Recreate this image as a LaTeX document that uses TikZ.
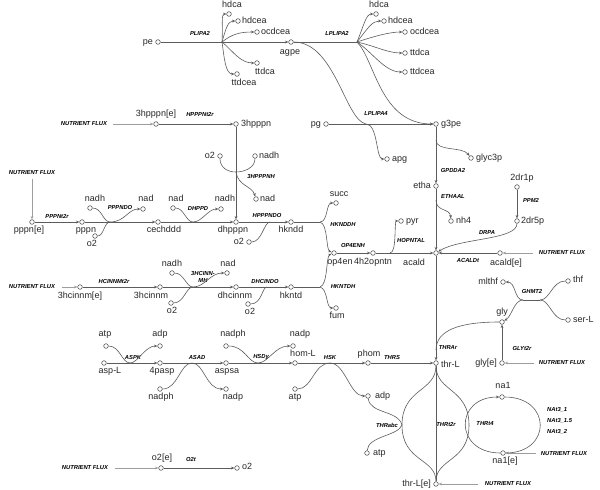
\documentclass[tikz,border=0pt]{standalone}
\usepackage{fontspec}
\setmainfont{Liberation Sans}
\usetikzlibrary{arrows.meta}
\definecolor{ln}{HTML}{5C5C5C}
\definecolor{tx}{HTML}{262626}
\tikzset{
 met/.style={circle,draw=ln,fill=white,line width=0.6pt,inner sep=0pt,minimum size=4.6pt},
 lab/.style={font=\fontsize{9}{9}\selectfont,text=tx,inner sep=0pt,text height=6.5pt,text depth=2pt},
 rxn/.style={font=\fontsize{5.8}{6.6}\selectfont\bfseries\itshape,inner sep=0pt,align=center},
 nf/.style={font=\fontsize{5.8}{6}\selectfont\bfseries\itshape,inner sep=0pt},
 edge/.style={draw=ln,line width=0.6pt},
 pr/.style={edge,-{Stealth[length=3.4pt,width=2.8pt]}},
 fl/.style={draw=ln!60,line width=0.6pt,-{Stealth[length=3.4pt,width=2.8pt]}},
}
\newcommand\mt[5]{\node[met] (#1) at (#2) {}; \node[lab,anchor=#3] (#1-l) at (#4) {#5};}
\newcommand\rx[3]{\node[rxn] (#1) at (#2) {#3};}
\begin{document}
\begin{tikzpicture}[x=1pt,y=-1pt]
\useasboundingbox (0,0) rectangle (600,490);
% ---------------- metabolites ----------------
\mt{pe}{158,42}{east}{153,42}{pe}
\mt{hdcaA}{229,14}{south}{232,10}{hdca}
\mt{hdceaA}{238,21}{west}{242,21}{hdcea}
\mt{ocdceaA}{257,32}{west}{261,32}{ocdcea}
\mt{ttdcaA}{257,63}{north}{265,68}{ttdca}
\mt{ttdceaA}{237,74}{north}{244,79}{ttdcea}
\mt{agpe}{291,42}{north}{290,48}{agpe}
\mt{hdcaB}{376,14}{south}{379,10}{hdca}
\mt{hdceaB}{384,21}{west}{388,21}{hdcea}
\mt{ocdceaB}{405,32}{west}{410,32}{ocdcea}
\mt{ttdcaB}{405,53}{west}{410,53}{ttdca}
\mt{ttdceaB}{405,72}{west}{410,72}{ttdcea}
\mt{hpppne}{156,124}{south}{156,119}{3hpppn[e]}
\mt{hpppn}{236,124}{west}{241,124}{3hpppn}
\mt{o2a}{220,156}{east}{215,156}{o2}
\mt{nadha}{255,156}{west}{259,156}{nadh}
\mt{nada}{256,199}{west}{260,199}{nad}
\mt{pg}{326,124}{east}{321,124}{pg}
\mt{g3pe}{436,124}{west}{441,124}{g3pe}
\mt{apg}{387,159}{west}{392,159}{apg}
\mt{glyc3p}{471,158}{west}{476,158}{glyc3p}
\mt{etha}{436,186}{east}{431,186}{etha}
\mt{nh4}{451,221}{west}{456,221}{nh4}
\mt{pyr}{401,221}{west}{406,221}{pyr}
\mt{drip}{517,187}{south}{522,183}{2dr1p}
\mt{drvp}{517,221}{west}{521,221}{2dr5p}
\mt{pppne}{32,222}{north}{29,226}{pppn[e]}
\mt{pppn}{82,222}{north}{86,226}{pppn}
\mt{nadhb}{90,208}{south}{95,204}{nadh}
\mt{o2b}{95,236}{north}{92,240}{o2}
\mt{nadb}{143,209}{south}{146,204}{nad}
\mt{cechddd}{158,222}{north}{164,226}{cechddd}
\mt{nadc}{173,208}{south}{176,204}{nad}
\mt{nadhc}{221,209}{south}{225,204}{nadh}
\mt{dhpppn}{236,222}{north}{233,226}{dhpppn}
\mt{o2c}{249,242}{east}{244,242}{o2}
\mt{hkndd}{291,222}{north}{291,226}{hkndd}
\mt{succ}{336,203}{south}{339,199}{succ}
\mt{opfen}{334,253}{north}{340,258}{op4en}
\mt{hopntn}{373,253}{north}{373,258}{4h2opntn}
\mt{acald}{436,253}{north}{414,259}{acald}
\mt{acalde}{500,253}{north}{506,259}{acald[e]}
\mt{mlthf}{503,282}{east}{498,282}{mlthf}
\mt{thf}{568,281}{west}{573,280}{thf}
\mt{serL}{568,320}{west}{573,320}{ser-L}
\mt{gly}{502,322}{south}{502,317}{gly}
\mt{glye}{502,363}{east}{497,363}{gly[e]}
\mt{hcinnme}{80,287}{north}{80,292}{3hcinnm[e]}
\mt{hcinnm}{160,287}{north}{151,292}{3hcinnm}
\mt{nadhd}{172,273}{south}{172,269}{nadh}
\mt{o2d}{171,303}{north}{172,307}{o2}
\mt{nadd}{227,273}{south}{228,269}{nad}
\mt{dhcinnm}{236,287}{north}{235,292}{dhcinnm}
\mt{o2e}{248,304}{north}{250,308}{o2}
\mt{hkntd}{291,287}{north}{291,292}{hkntd}
\mt{fum}{336,308}{north}{337,312}{fum}
\mt{atpa}{106,346}{south}{105,339}{atp}
\mt{adpa}{160,346}{south}{160,339}{adp}
\mt{aspL}{104,363}{north}{110,367}{asp-L}
\mt{fpasp}{160,363}{north}{162,367}{4pasp}
\mt{nadpha}{160,389}{north}{161,393}{nadph}
\mt{aspsa}{226,363}{north}{227,367}{aspsa}
\mt{nadpa}{226,389}{north}{233,393}{nadp}
\mt{nadphb}{226,346}{south}{233,339}{nadph}
\mt{nadpb}{293,346}{south}{300,339}{nadp}
\mt{homL}{295,363}{south}{303,359}{hom-L}
\mt{atpb}{295,389}{north}{295,393}{atp}
\mt{phom}{368,363}{south}{369,359}{phom}
\mt{adpb}{368,396}{west}{375,396}{adp}
\mt{thrL}{436,363}{west}{441,365}{thr-L}
\mt{atpc}{367,453}{west}{373,453}{atp}
\mt{naa}{502,397}{south}{503,391}{na1}
\mt{naae}{503,453}{north}{505,457}{na1[e]}
\mt{thrLe}{436,484}{east}{431,484}{thr-L[e]}
\mt{otwoe}{161,468}{south}{162,463}{o2[e]}
\mt{otwo}{237,468}{west}{242,467}{o2}
% ---------------- nutrient flux ----------------
\node[nf] (nf1) at (84,124) {NUTRIENT FLUX};
\node[nf] (nf2) at (32,173) {NUTRIENT FLUX};
\node[nf] (nf3) at (32,287) {NUTRIENT FLUX};
\node[nf] (nf4) at (562,253) {NUTRIENT FLUX};
\node[nf] (nf5) at (562,363) {NUTRIENT FLUX};
\node[nf] (nf6) at (564,454) {NUTRIENT FLUX};
\node[nf] (nf7) at (508,484) {NUTRIENT FLUX};
\node[nf] (nf8) at (85,468) {NUTRIENT FLUX};
\coordinate (f1) at (113,124);
\coordinate (f2) at (32,179);
\coordinate (f3) at (62,287);
\coordinate (f4) at (533,253);
\coordinate (f5) at (534,363);
\coordinate (f6) at (536,453);
\coordinate (f7) at (478,484);
\coordinate (f8) at (115,468);
\draw[fl] (f1) -- (hpppne);
\draw[fl] (f2) -- (pppne);
\draw[fl] (f3) -- (hcinnme);
\draw[fl] (f4) -- (acalde);
\draw[fl] (f5) -- (glye);
\draw[fl] (f6) -- (naae);
\draw[fl] (f7) -- (thrLe);
\draw[fl] (f8) -- (otwoe);
% ---------------- reaction labels ----------------
\rx{rPLIPA2}{200,33}{PLIPA2}
\rx{rLPLIPA2}{337,33}{LPLIPA2}
\rx{rHPPPNt2r}{200,114}{HPPPNt2r}
\rx{rLPLIPA4}{376,114}{LPLIPA4}
\rx{r3HPPPNH}{261,177}{3HPPPNH}
\rx{rGPDDA2}{453,170}{GPDDA2}
\rx{rETHAAL}{453,197}{ETHAAL}
\rx{rPPM2}{531,200}{PPM2}
\rx{rPPPNt2r}{57,216}{PPPNt2r}
\rx{rPPPNDO}{120,208}{PPPNDO}
\rx{rDHPPD}{198,209}{DHPPD}
\rx{rHPPPNDO}{267,215}{HPPPNDO}
\rx{rHKNDDH}{343,225}{HKNDDH}
\rx{rOP4ENH}{353,245}{OP4ENH}
\rx{rHOPNTAL}{411,240}{HOPNTAL}
\rx{rDRPA}{487,233}{DRPA}
\rx{rACALDt}{468,261}{ACALDt}
\rx{rGHMT2}{532,291}{GHMT2}
\rx{rHCINNMt2r}{114,281}{HCINNMt2r}
\rx{r3HCINNMH}{203,277}{3HCINN-\\MH}
\rx{rDHCINDO}{265,281}{DHCINDO}
\rx{rHKNTDH}{343,287}{HKNTDH}
\rx{rTHRAr}{448,348}{THRAr}
\rx{rGLYt2r}{522,348}{GLYt2r}
\rx{rASPK}{133,357}{ASPK}
\rx{rASAD}{197,357}{ASAD}
\rx{rHSDy}{261,357}{HSDy}
\rx{rHSK}{330,357}{HSK}
\rx{rTHRS}{392,357}{THRS}
\rx{rTHRabc}{387,425}{THRabc}
\rx{rTHRt2r}{446,424}{THRt2r}
\rx{rTHRt4}{485,424}{THRt4}
\node[rxn,anchor=west] (rNA1) at (547,410) {NAt3\_1};
\node[rxn,anchor=west] (rNA2) at (547,421) {NAt3\_1.5};
\node[rxn,anchor=west] (rNA3) at (547,432) {NAt3\_2};
\rx{rO2t}{191,459}{O2t}
% ---------------- junctions ----------------
\coordinate (jP) at (222,42);
\coordinate (jL) at (357,42);
\coordinate (jPG) at (366,124);
\coordinate (j3) at (236,172);
\coordinate (jG) at (436,140);
\coordinate (jE) at (436,200);
\coordinate (jPP) at (110,222);
\coordinate (jDH) at (193,222);
\coordinate (jHP) at (270,222);
\coordinate (jHK) at (320,222);
\coordinate (jHO) at (390,253);
\coordinate (jKT) at (320,287);
\coordinate (jHC) at (193,287);
\coordinate (jDC) at (267,287);
\coordinate (jGa) at (540,300);
\coordinate (jGb) at (523,300);
\coordinate (jTR) at (436,350);
\coordinate (jAK) at (130,363);
\coordinate (jAS) at (192,363);
\coordinate (jHD) at (258,363);
\coordinate (jHS) at (330,363);
\coordinate (jTA) at (402,425);
\coordinate (jT4) at (469,425);
% ---------------- PLIPA2 ----------------
\draw[edge] (pe) -- (jP);
\draw[pr] (jP) -- (agpe);
\draw[pr] (jP) .. controls (223,25) and (221,14) .. (hdcaA);
\draw[pr] (jP) .. controls (226,28) and (228,21) .. (hdceaA);
\draw[pr] (jP) .. controls (232,34) and (240,32) .. (ocdceaA);
\draw[pr] (jP) .. controls (232,50) and (240,63) .. (ttdcaA);
\draw[pr] (jP) .. controls (224,55) and (225,74) .. (ttdceaA);
% ---------------- LPLIPA2 ----------------
\draw[edge] (agpe) -- (jL);
\draw[pr] (jL) .. controls (364,25) and (366,14) .. (hdcaB);
\draw[pr] (jL) .. controls (368,28) and (372,21) .. (hdceaB);
\draw[pr] (jL) .. controls (375,36) and (390,32) .. (ocdceaB);
\draw[pr] (jL) .. controls (375,46) and (388,53) .. (ttdcaB);
\draw[pr] (jL) .. controls (372,52) and (385,72) .. (ttdceaB);
\draw[pr] (jL) .. controls (375,60) and (380,124) .. (g3pe);
% ---------------- LPLIPA4 ----------------
\draw[edge] (pg) -- (jPG);
\draw[edge] (agpe) .. controls (335,42) and (345,120) .. (jPG);
\draw[pr] (jPG) -- (g3pe);
\draw[pr] (jPG) .. controls (378,124) and (376,159) .. (apg);
% ---------------- HPPPNt2r / 3HPPPNH ----------------
\draw[pr] (hpppne) -- (hpppn);
\draw[pr] (hpppn) -- (dhpppn);
\draw[edge] (o2a) .. controls (220,168) and (228,172) .. (j3);
\draw[edge] (nadha) .. controls (255,168) and (244,172) .. (j3);
\draw[pr] (j3) .. controls (238,186) and (252,186) .. (nada);
% ---------------- GPDDA2 / ETHAAL / PPM2 / DRPA ----------------
\draw[pr] (g3pe) -- (etha);
\draw[pr] (jG) .. controls (436,152) and (462,146) .. (glyc3p);
\draw[pr] (etha) -- (acald);
\draw[pr] (jE) .. controls (436,212) and (450,208) .. (nh4);
\draw[pr] (drip) -- (drvp);
\draw[pr] (drvp) .. controls (517,240) and (460,238) .. (acald);
% ---------------- row pppn ----------------
\draw[pr] (pppne) -- (pppn);
\draw[edge] (pppn) -- (jPP);
\draw[pr] (jPP) -- (cechddd);
\draw[edge] (nadhb) .. controls (102,208) and (103,222) .. (jPP);
\draw[edge] (o2b) .. controls (104,236) and (104,222) .. (jPP);
\draw[pr] (jPP) .. controls (125,222) and (128,209) .. (nadb);
\draw[edge] (cechddd) -- (jDH);
\draw[pr] (jDH) -- (dhpppn);
\draw[edge] (nadc) .. controls (184,208) and (186,222) .. (jDH);
\draw[pr] (jDH) .. controls (202,222) and (208,209) .. (nadhc);
\draw[edge] (dhpppn) -- (jHP);
\draw[pr] (jHP) -- (hkndd);
\draw[edge] (o2c) .. controls (262,242) and (264,222) .. (jHP);
\draw[edge] (hkndd) -- (jHK);
\draw[pr] (jHK) .. controls (328,222) and (326,203) .. (succ);
\draw[pr] (jHK) .. controls (328,224) and (326,250) .. (opfen);
\draw[pr] (opfen) -- (hopntn);
\draw[edge] (hopntn) -- (jHO);
\draw[pr] (jHO) -- (acald);
\draw[pr] (jHO) .. controls (397,253) and (394,221) .. (pyr);
\draw[pr] (acalde) -- (acald);
% ---------------- row 3hcinnm ----------------
\draw[pr] (hcinnme) -- (hcinnm);
\draw[edge] (hcinnm) -- (jHC);
\draw[pr] (jHC) -- (dhcinnm);
\draw[edge] (nadhd) .. controls (184,273) and (186,287) .. (jHC);
\draw[edge] (o2d) .. controls (184,303) and (186,287) .. (jHC);
\draw[pr] (jHC) .. controls (205,287) and (210,273) .. (nadd);
\draw[edge] (dhcinnm) -- (jDC);
\draw[pr] (jDC) -- (hkntd);
\draw[edge] (o2e) .. controls (262,304) and (262,287) .. (jDC);
\draw[edge] (hkntd) -- (jKT);
\draw[pr] (jKT) .. controls (328,285) and (326,256) .. (opfen);
\draw[pr] (jKT) .. controls (328,289) and (326,308) .. (fum);
% ---------------- THRAr / GHMT2 / GLYt2r ----------------
\draw[pr] (acald) -- (thrL);
\draw[edge] (jTR) .. controls (436,330) and (460,322) .. (gly);
\draw[edge] (thf) .. controls (552,281) and (550,300) .. (jGa);
\draw[edge] (serL) .. controls (552,320) and (550,300) .. (jGa);
\draw[edge] (jGa) -- (jGb);
\draw[pr] (jGb) .. controls (514,300) and (516,282) .. (mlthf);
\draw[pr] (jGb) .. controls (514,300) and (512,316) .. (gly);
\draw[pr] (glye) -- (gly);
% ---------------- aspartate row ----------------
\draw[edge] (aspL) -- (jAK);
\draw[pr] (jAK) -- (fpasp);
\draw[edge] (atpa) .. controls (120,346) and (122,363) .. (jAK);
\draw[pr] (jAK) .. controls (138,363) and (145,346) .. (adpa);
\draw[edge] (fpasp) -- (jAS);
\draw[pr] (jAS) -- (aspsa);
\draw[edge] (nadpha) .. controls (178,389) and (180,363) .. (jAS);
\draw[pr] (jAS) .. controls (204,363) and (206,389) .. (nadpa);
\draw[edge] (aspsa) -- (jHD);
\draw[pr] (jHD) -- (homL);
\draw[edge] (nadphb) .. controls (245,346) and (248,363) .. (jHD);
\draw[pr] (jHD) .. controls (268,363) and (275,346) .. (nadpb);
\draw[edge] (homL) -- (jHS);
\draw[pr] (jHS) -- (phom);
\draw[edge] (atpb) .. controls (312,389) and (314,363) .. (jHS);
\draw[pr] (jHS) .. controls (345,363) and (350,396) .. (adpb);
\draw[pr] (phom) -- (thrL);
% ---------------- threonine transport ----------------
\draw[edge] (thrLe) -- (thrL);
\draw[edge] (thrLe) .. controls (436,458) and (402,462) .. (jTA) .. controls (402,388) and (436,392) .. (thrL);
\draw[edge] (thrLe) .. controls (436,458) and (469,462) .. (jT4) .. controls (469,388) and (436,392) .. (thrL);
\draw[edge] (adpb) .. controls (370,414) and (398,410) .. (jTA);
\draw[edge] (atpc) .. controls (368,436) and (398,436) .. (jTA);
\draw[pr] (naae) .. controls (454,453) and (454,397) .. (naa);
\draw[edge] (naae) .. controls (552,453) and (552,397) .. (naa);
% ---------------- O2t ----------------
\draw[pr] (otwoe) -- (otwo);
\end{tikzpicture}
\end{document}
